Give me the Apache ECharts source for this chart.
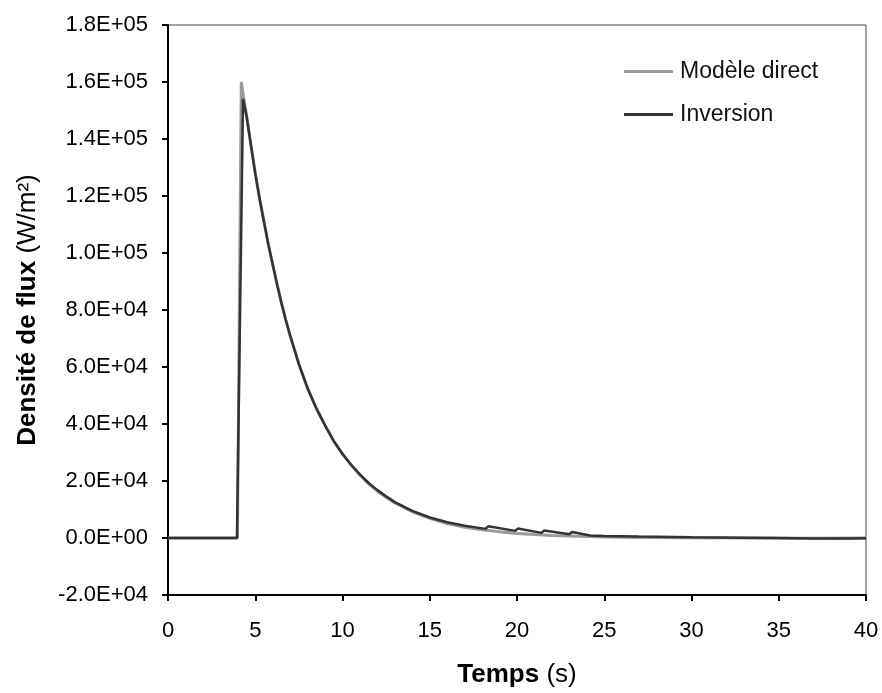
<!DOCTYPE html>
<html>
<head>
  <meta charset="utf-8">
  <title>Densité de flux</title>
  <script src="https://cdn.jsdelivr.net/npm/echarts@6/dist/echarts.min.js"></script>
  <style>
    html, body { margin: 0; padding: 0; background: #fff; }
    #chart { width: 882px; height: 693px; }
  </style>
</head>
<body>
  <div id="chart"></div>
  <script>
    // Modèle direct (grey curve)
    const tDirect = [0, 3.98, 4.2, 4.3, 4.5, 4.75, 5, 5.25, 5.5, 5.75, 6, 6.25, 6.5, 6.75, 7, 7.5, 8, 8.5, 9, 9.5, 10,
      10.5, 11, 11.5, 12, 12.5, 13, 14, 15, 16, 17, 18, 19, 20, 21, 22, 23, 24, 25, 27, 30, 33, 36, 40];
    const vDirect = [0, 0, 160000, 156000, 148500, 138000, 128000, 119000, 111000, 103000, 96000, 89000, 82500, 76500, 71000, 61000, 52500, 45500, 39500, 34000, 29500,
      25500, 22000, 19000, 16500, 14300, 12300, 9200, 6900, 5100, 3800, 2900, 2200, 1600, 1200, 900, 700, 500, 380, 200, 80, 0, -100, 0];

    // Inversion (dark curve)
    const tInv = [0, 3.95, 4.3, 4.5, 4.75, 5, 5.25, 5.5, 5.75, 6, 6.25, 6.5, 6.75, 7, 7.5, 8, 8.5, 9, 9.5, 10,
      10.5, 11, 11.5, 12, 12.5, 13, 14, 15, 16, 17, 18.2, 18.35, 19.9, 20.05, 21.4, 21.55, 23.0, 23.15, 24.2, 25, 27, 30, 33, 35, 37, 39, 40];
    const vInv = [0, 0, 154000, 148000, 138000, 128000, 119000, 111000, 103000, 96000, 89000, 82500, 76500, 71000, 61000, 52500, 45500, 39500, 34000, 29500,
      25700, 22300, 19300, 16800, 14600, 12600, 9500, 7200, 5500, 4300, 3200, 4100, 2500, 3300, 1800, 2600, 1300, 2100, 900, 700, 500, 250, 100, 0, -200, -150, -100];

    const seriesNames = ['Modèle direct', 'Inversion'];
    const seriesColors = ['#9a9a9a', '#333333'];

    const FONT = "'Liberation Sans', Arial, sans-serif";

    function sci(v) {
      if (v === 0) return '0.0E+00';
      const e = Math.floor(Math.log10(Math.abs(v)) + 1e-9);
      const m = v / Math.pow(10, e);
      return m.toFixed(1) + 'E+' + String(e).padStart(2, '0');
    }

    const zip = (ts, vs) => ts.map((t, i) => [t, vs[i]]);

    const titleRich = {
      b: { fontFamily: FONT, fontSize: 26, fontWeight: 'bold', color: '#000' },
      n: { fontFamily: FONT, fontSize: 26, color: '#000' }
    };

    const chart = echarts.init(document.getElementById('chart'));
    chart.setOption({
      animation: false,
      textStyle: { fontFamily: FONT },
      grid: {
        left: 168, right: 16, top: 25, bottom: 96,
        show: true, borderColor: '#444', borderWidth: 1
      },
      legend: {
        orient: 'vertical',
        left: 624, top: 60, padding: 0,
        icon: 'rect',
        itemWidth: 49, itemHeight: 3, itemGap: 20,
        textStyle: { fontFamily: FONT, fontSize: 23, color: '#111', padding: [0, 0, 0, 2] },
        data: seriesNames
      },
      xAxis: {
        type: 'value', min: 0, max: 40, interval: 5,
        name: '{b|Temps }{n|(s)}',
        nameLocation: 'middle', nameGap: 67,
        nameTextStyle: { rich: titleRich },
        axisLine: { onZero: false, lineStyle: { color: '#000', width: 2 } },
        axisTick: { inside: false, length: 6, lineStyle: { color: '#000', width: 2 } },
        axisLabel: { margin: 25, fontSize: 22, color: '#000', fontFamily: FONT },
        splitLine: { show: false }
      },
      yAxis: {
        type: 'value', min: -20000, max: 180000, interval: 20000,
        name: '{b|Densité de flux }{n|(W/m²)}',
        nameLocation: 'middle', nameGap: 127, nameRotate: 90,
        nameTextStyle: { rich: titleRich },
        axisLine: { show: true, onZero: false, lineStyle: { color: '#000', width: 2 } },
        axisTick: { show: true, inside: false, length: 6, lineStyle: { color: '#000', width: 2 } },
        axisLabel: { margin: 20, fontSize: 22, color: '#000', fontFamily: FONT, formatter: sci },
        splitLine: { show: false }
      },
      series: [
        {
          name: seriesNames[0], type: 'line', symbol: 'none',
          data: zip(tDirect, vDirect),
          lineStyle: { color: seriesColors[0], width: 3 },
          itemStyle: { color: seriesColors[0] }
        },
        {
          name: seriesNames[1], type: 'line', symbol: 'none',
          data: zip(tInv, vInv),
          lineStyle: { color: seriesColors[1], width: 2.5 },
          itemStyle: { color: seriesColors[1] }
        }
      ]
    });
  </script>
</body>
</html>
